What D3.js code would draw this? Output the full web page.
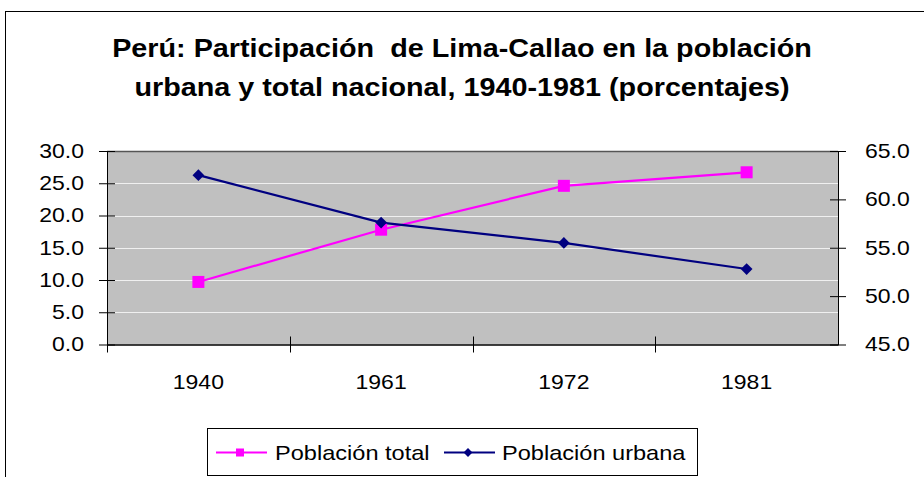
<!DOCTYPE html>
<html>
<head>
<meta charset="utf-8">
<script src="https://cdn.jsdelivr.net/npm/d3@7"></script>
<style>
  body { margin: 0; background: #fff; }
  text { font-family: "Liberation Sans", Arial, sans-serif; }
</style>
</head>
<body>
<svg id="chart" width="924" height="477"></svg>
<script>
// data
const years = ['1940', '1961', '1972', '1981'];
const total = [9.7, 17.8, 24.6, 26.7];    // left axis
const urbana = [62.5, 57.6, 55.5, 52.8];  // right axis
const leftTicks = [0, 5, 10, 15, 20, 25, 30];
const rightTicks = [45, 50, 55, 60, 65];
const titleLines = ['Perú: Participación  de Lima-Callao en la población',
                    'urbana y total nacional, 1940-1981 (porcentajes)'];

const svg = d3.select('#chart');
const SX = 1.15; // the original font renders wider than Liberation Sans

let plot = {left: 107, top: 151, right: 838, bottom: 344.5};

// outer frame
svg.append('rect')
    .attr('x', 5.5).attr('y', 11.5)
    .attr('width', 930).attr('height', 480)
    .attr('fill', 'none').attr('stroke', '#000');

// title
svg.append('g').selectAll('text').data(titleLines).enter()
    .append('text')
    .attr('transform', (d, i) => `translate(462,${56.5 + i * 39.5}) scale(${SX},1)`)
    .attr('text-anchor', 'middle')
    .attr('font-size', 25).attr('font-weight', 'bold')
    .attr('fill', '#000')
    .style('white-space', 'pre')
    .text(d => d);

let x = d3.scaleBand().domain(years).range([plot.left, plot.right]),
    yL = d3.scaleLinear().domain([0, 30]).range([plot.bottom, plot.top]),
    yR = d3.scaleLinear().domain([45, 65]).range([plot.bottom, plot.top]);

// plot background
svg.append('rect')
    .attr('x', plot.left).attr('y', plot.top)
    .attr('width', plot.right - plot.left).attr('height', plot.bottom - plot.top)
    .attr('fill', '#c0c0c0');

// gridlines
svg.append('g').selectAll('line').data(leftTicks.slice(1, -1)).enter()
    .append('line')
    .attr('x1', plot.left).attr('x2', plot.right)
    .attr('y1', d => Math.round(yL(d)) + 0.5).attr('y2', d => Math.round(yL(d)) + 0.5)
    .attr('stroke', '#f0f0f0');

// top border of plot area
svg.append('line')
    .attr('x1', plot.left).attr('x2', plot.right)
    .attr('y1', plot.top + 0.5).attr('y2', plot.top + 0.5)
    .attr('stroke', '#555').attr('stroke-width', 1.5);

// axes: cross ticks like the original
function styleAxis(g) {
    g.selectAll('text').attr('font-size', 20).attr('fill', '#000')
        .attr('transform', `scale(${SX},1)`)
        .style('font-family', '"Liberation Sans", Arial, sans-serif');
    g.selectAll('line, path').attr('stroke', '#000');
}

let axL = svg.append('g')
    .attr('transform', `translate(${plot.left},0)`)
    .call(d3.axisLeft(yL).tickValues(leftTicks).tickFormat(d3.format('.1f'))
        .tickSizeInner(7).tickSizeOuter(0).tickPadding(13))
    .call(styleAxis);
axL.selectAll('.tick line').attr('x2', 8).attr('x1', -8);

let axR = svg.append('g')
    .attr('transform', `translate(${plot.right},0)`)
    .call(d3.axisRight(yR).tickValues(rightTicks).tickFormat(d3.format('.1f'))
        .tickSizeInner(8).tickSizeOuter(0).tickPadding(15.5))
    .call(styleAxis);
axR.selectAll('.tick line').attr('x1', -8).attr('x2', 8);

let axB = svg.append('g')
    .attr('transform', `translate(0,${plot.bottom})`)
    .call(d3.axisBottom(x).tickSizeOuter(0).tickSize(0).tickPadding(30))
    .call(styleAxis);
axB.select('.domain').attr('stroke-width', 1.5);

// category boundary ticks on the x axis
let bounds = years.map(d => x(d));
svg.append('g').selectAll('line').data(bounds).enter()
    .append('line')
    .attr('x1', d => Math.round(d) + 0.5).attr('x2', d => Math.round(d) + 0.5)
    .attr('y1', plot.bottom - 8).attr('y2', plot.bottom + 8)
    .attr('stroke', '#000');

let cx = d => x(d) + x.bandwidth() / 2;

// series lines
svg.append('path')
    .datum(total)
    .attr('d', d3.line().x((d, i) => cx(years[i])).y(d => yL(d)))
    .attr('fill', 'none').attr('stroke', '#ff00ff').attr('stroke-width', 2.2);

svg.append('path')
    .datum(urbana)
    .attr('d', d3.line().x((d, i) => cx(years[i])).y(d => yR(d)))
    .attr('fill', 'none').attr('stroke', '#000080').attr('stroke-width', 2.2);

// markers
svg.append('g').selectAll('rect').data(total).enter()
    .append('rect')
    .attr('x', (d, i) => cx(years[i]) - 6).attr('y', d => yL(d) - 6)
    .attr('width', 12).attr('height', 12)
    .attr('fill', '#ff00ff');

let diamond = d3.symbol().type(d3.symbolDiamond2).size(88);
svg.append('g').selectAll('path').data(urbana).enter()
    .append('path')
    .attr('d', diamond)
    .attr('transform', (d, i) => `translate(${cx(years[i])},${yR(d)})`)
    .attr('fill', '#000080');

// legend
let legend = svg.append('g');
legend.append('rect')
    .attr('x', 207.5).attr('y', 428.5).attr('width', 490).attr('height', 47)
    .attr('fill', '#fff').attr('stroke', '#000');

let items = [
    {label: 'Población total', color: '#ff00ff', x0: 216, tx: 275, shape: 'square'},
    {label: 'Población urbana', color: '#000080', x0: 444, tx: 502, shape: 'diamond'}
];
items.forEach(it => {
    legend.append('line')
        .attr('x1', it.x0).attr('x2', it.x0 + 51)
        .attr('y1', 452.5).attr('y2', 452.5)
        .attr('stroke', it.color).attr('stroke-width', 2);
    if (it.shape === 'square') {
        legend.append('rect')
            .attr('x', it.x0 + 20).attr('y', 448.5).attr('width', 8).attr('height', 8)
            .attr('fill', it.color);
    } else {
        legend.append('path')
            .attr('d', d3.symbol().type(d3.symbolDiamond2).size(50))
            .attr('transform', `translate(${it.x0 + 24},452.5)`)
            .attr('fill', it.color);
    }
    legend.append('text')
        .attr('transform', `translate(${it.tx},460) scale(${SX},1)`)
        .attr('font-size', 20.5).attr('fill', '#000')
        .text(it.label);
});
</script>
</body>
</html>
